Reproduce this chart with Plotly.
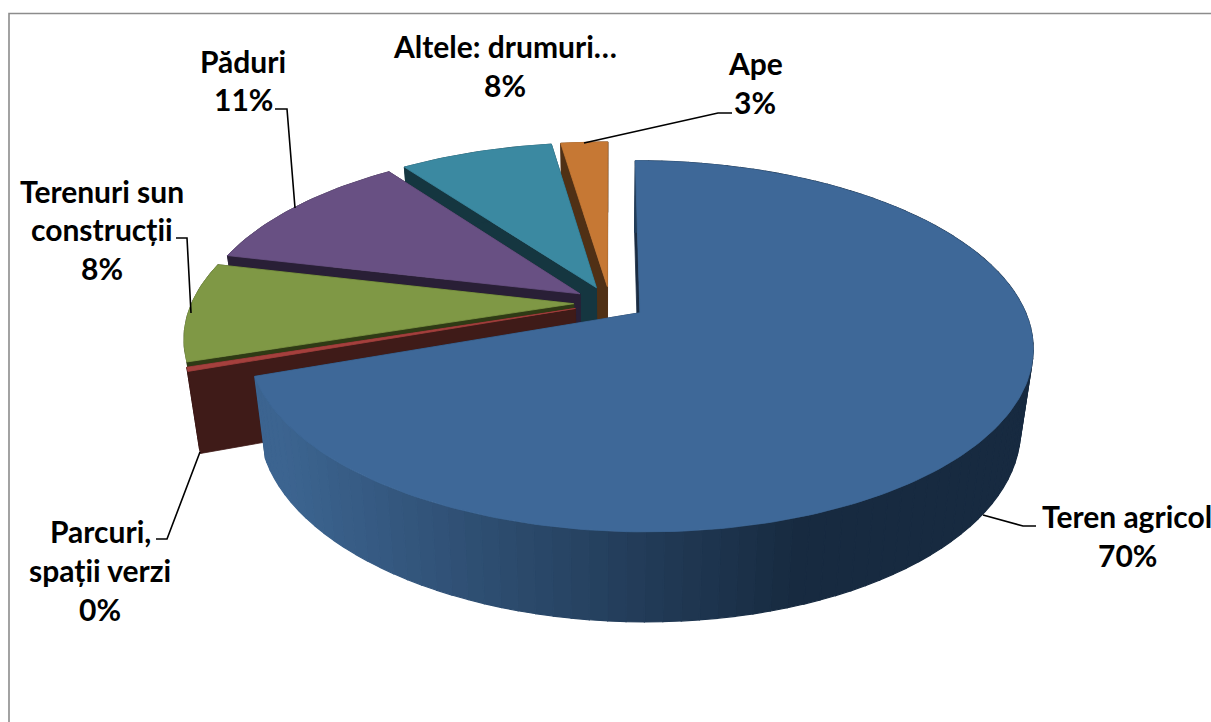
import numpy as np
import plotly.graph_objects as go

# --- data ---
labels = ["Teren agricol", "Parcuri,\nspații verzi", "Terenuri sun\nconstrucții", "Păduri", "Altele: drumuri…", "Ape"]
values = [69.6, 0.35, 8.75, 11.28, 7.67, 2.35]
shown_pct = [70, 0, 8, 11, 8, 3]
top_colors = ["#3E6898", "#A5403D", "#7F9845", "#685083", "#3B89A1", "#C67834"]
dark_colors = ["#1A2C42", "#3F1B18", "#2F3A15", "#291F36", "#153640", "#503015"]

# --- projection of the tilted pie ---
CX, CY = 610.0, 303.0
A, B = 382.0, 176.0
K = 0.179
EXPLODE = 0.095
DEPTH = 78.6
SHRINK = 0.97


def project(x, y, bottom=False):
    s = 1.0 / (1.0 + K * y)
    q = SHRINK if bottom else 1.0
    d = DEPTH if bottom else 0.0
    return CX + A * x * s * q, CY - B * y * s * q + d * s


def hex_rgb(h):
    return np.array([int(h[i:i + 2], 16) for i in (1, 3, 5)], dtype=float)


def mix(c1, c2, t):
    r = hex_rgb(c1) * (1 - t) + hex_rgb(c2) * t
    return f"rgb({r[0]:.0f},{r[1]:.0f},{r[2]:.0f})"


fig = go.Figure()


def poly(xs, ys, color, name, width=0.8):
    fig.add_trace(go.Scatter(x=list(xs) + [xs[0]], y=list(ys) + [ys[0]], mode="lines",
                             fill="toself", fillcolor=color, name=name,
                             line=dict(color=color, width=width),
                             hoverinfo="name", showlegend=False))


total = sum(values)
edges = np.concatenate([[0.0], np.cumsum(values)]) / total * 2 * np.pi  # clockwise from 12 o'clock
slices = []
for i in range(len(values)):
    t0, t1 = edges[i], edges[i + 1]
    mid = (t0 + t1) / 2
    ox, oy = EXPLODE * np.sin(mid), EXPLODE * np.cos(mid)
    slices.append((i, t0, t1, ox, oy))

# painter's order: farthest slice first, the big front slice last
for i, t0, t1, ox, oy in reversed(slices):
    n = max(int((t1 - t0) / 0.02), 2)
    th = np.linspace(t0, t1, n)
    rx, ry = ox + np.sin(th), oy + np.cos(th)
    name = labels[i].replace("\n", " ")
    # the two cut faces
    for t in (t1, t0):
        ex, ey = ox + np.sin(t), oy + np.cos(t)
        p = [project(ox, oy), project(ex, ey), project(ex, ey, True), project(ox, oy, True)]
        poly([q[0] for q in p], [q[1] for q in p], dark_colors[i], name)
    # outer wall
    if i == 0:
        step = 2
        for j in range(0, n - 1, step):
            jj = min(j + step + 1, n)
            X1, Y1 = project(rx[j:jj], ry[j:jj])
            X2, Y2 = project(rx[j:jj], ry[j:jj], True)
            u = np.clip((X1.mean() - 280.0) / (800.0 - 280.0), 0, 1)
            c = mix("#3C6490", "#172A40", u)
            poly(np.r_[X1, X2[::-1]], np.r_[Y1, Y2[::-1]], c, name, width=1.2)
    else:
        X1, Y1 = project(rx, ry)
        X2, Y2 = project(rx, ry, True)
        poly(np.r_[X1, X2[::-1]], np.r_[Y1, Y2[::-1]], dark_colors[i], name)
    # top face
    X, Y = project(np.r_[ox, rx], np.r_[oy, ry])
    poly(X, Y, top_colors[i], name)

# --- label placement: centre x, first line y ---
LABEL_XY = [(1127, 516), (100, 531), (102, 190.5), (243, 60.5), (505, 46), (755, 63)]
LINE_GAP = 38.8
annotations = []
for (lx, ly), lab, pct in zip(LABEL_XY, labels, shown_pct):
    for k, line in enumerate(lab.split("\n") + [f"{pct}%"]):
        annotations.append(dict(x=lx, y=ly + k * LINE_GAP, text=f"<b>{line}</b>", showarrow=False,
                                xanchor="center", yanchor="middle",
                                font=dict(family="Lato", size=30, color="#000000")))

LEADERS = [
    [(983, 515), (1023, 526), (1036, 526)],
    [(200, 452), (167, 539), (156, 539)],
    [(176, 238), (187, 238), (191, 313)],
    [(275, 109), (287, 109), (295, 208)],
    [(584, 143), (718, 113), (732, 113)],
]
shapes = []
for pts in LEADERS:
    path = "M " + " L ".join(f"{a} {b}" for a, b in pts)
    shapes.append(dict(type="path", path=path, line=dict(color="#000000", width=1.6), layer="above"))
shapes.append(dict(type="path", path="M 9 722 L 9 13.5 L 1211 13.5",
                   line=dict(color="#8C8C8C", width=1.6), layer="below"))

fig.update_layout(
    width=1211, height=722, autosize=False,
    margin=dict(l=0, r=0, t=0, b=0),
    paper_bgcolor="#FFFFFF", plot_bgcolor="#FFFFFF",
    xaxis=dict(range=[0, 1211], visible=False, fixedrange=True),
    yaxis=dict(range=[722, 0], visible=False, fixedrange=True),
    annotations=annotations, shapes=shapes, showlegend=False,
)
fig.write_html("out.html", config=dict(displayModeBar=False),
               post_script="document.body.style.margin='0';document.documentElement.style.overflow='hidden';")
